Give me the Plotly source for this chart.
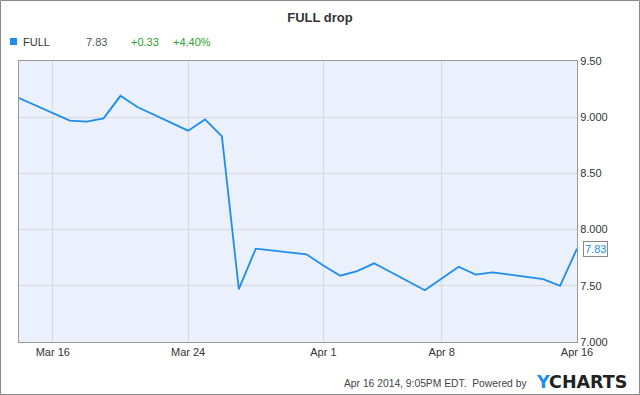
import plotly.graph_objects as go

dates = ["2014-03-14", "2014-03-17", "2014-03-18", "2014-03-19", "2014-03-20", "2014-03-21",
         "2014-03-24", "2014-03-25", "2014-03-26", "2014-03-27", "2014-03-28", "2014-03-31",
         "2014-04-01", "2014-04-02", "2014-04-03", "2014-04-04", "2014-04-07", "2014-04-08",
         "2014-04-09", "2014-04-10", "2014-04-11", "2014-04-14", "2014-04-15", "2014-04-16"]
prices = [9.17, 8.97, 8.96, 8.99, 9.19, 9.09,
          8.88, 8.98, 8.83, 7.47, 7.83, 7.78,
          7.68, 7.59, 7.63, 7.70, 7.46, 7.565,
          7.67, 7.60, 7.62, 7.56, 7.50, 7.83]

x_tick_vals = ["2014-03-16", "2014-03-24", "2014-04-01", "2014-04-08", "2014-04-16"]
x_tick_text = ["Mar 16", "Mar 24", "Apr 1", "Apr 8", "Apr 16"]
y_tick_vals = [7.0, 7.5, 8.0, 8.5, 9.0, 9.5]
y_tick_text = ["7.000", "7.50", "8.000", "8.50", "9.000", "9.50"]

W, H = 640, 395
L, R, T, B = 19, 63, 61, 53
pw, ph = W - L - R, H - T - B

LINE = "#1e8ded"
FONT = "Liberation Sans, Arial, sans-serif"

fig = go.Figure()
fig.add_trace(go.Scatter(x=dates, y=prices, mode="lines",
                         line=dict(color=LINE, width=1.8), hoverinfo="skip"))

fig.update_layout(
    width=W, height=H,
    margin=dict(l=L, r=R, t=T, b=B),
    paper_bgcolor="white",
    plot_bgcolor="#eaf1fc",
    showlegend=False,
    font=dict(family=FONT, size=11, color="#333333"),
    title=dict(text="<b>FULL drop</b>", x=0.5, xanchor="center", y=1 - 17.5 / H,
               yanchor="middle", font=dict(size=13, color="#333333", family=FONT)),
    xaxis=dict(type="date", range=["2014-03-14", "2014-04-16"],
               tickvals=x_tick_vals, ticktext=x_tick_text,
               showgrid=True, gridcolor="#d6d9de", gridwidth=1,
               showline=True, linecolor="#999999", linewidth=1, mirror=True,
               ticks="", zeroline=False, fixedrange=True,
               tickfont=dict(size=11, color="#333333")),
    yaxis=dict(range=[7.0, 9.5], side="right",
               tickvals=y_tick_vals, ticktext=y_tick_text,
               showgrid=True, gridcolor="#d6d9de", gridwidth=1,
               showline=True, linecolor="#999999", linewidth=1, mirror=True,
               ticks="", zeroline=False, fixedrange=True,
               tickfont=dict(size=11, color="#333333")),
)

# outer border
fig.add_shape(type="rect", xref="paper", yref="paper",
              x0=(-L + 0.5) / pw, x1=(W - L - 0.5) / pw,
              y0=(-B + 0.5) / ph, y1=(H - B - 0.5) / ph,
              line=dict(color="#8a8a8a", width=1), fillcolor="rgba(0,0,0,0)", layer="above")

def px(x):
    return (x - L) / pw

def py(y):
    return (H - B - y) / ph

# legend row
fig.add_shape(type="rect", xref="paper", yref="paper",
              x0=px(10), x1=px(17), y0=py(45), y1=py(38),
              line=dict(width=0), fillcolor=LINE)
legend_items = [(21, "FULL", "#333333"), (84, "7.83", "#555555"),
                (129, "+0.33", "#2ca02c"), (171, "+4.40%", "#2ca02c")]
for xx, txt, col in legend_items:
    fig.add_annotation(xref="paper", yref="paper", x=px(xx), y=py(42),
                       text=txt, showarrow=False, xanchor="left", yanchor="middle",
                       font=dict(size=11, color=col, family=FONT))

# last value label
fig.add_annotation(x=dates[-1], y=prices[-1], text=f"{prices[-1]:.2f}", showarrow=False,
                   xanchor="left", yanchor="middle", xshift=6,
                   font=dict(size=11, color=LINE, family=FONT),
                   bgcolor="white", bordercolor="#888888", borderwidth=1, borderpad=1)

# footer
fig.add_annotation(xref="paper", yref="paper", x=px(529), y=py(383),
                   text="Apr 16 2014, 9:05PM EDT.  Powered by", showarrow=False,
                   xanchor="right", yanchor="middle",
                   font=dict(size=10.3, color="#444444", family=FONT))
fig.add_annotation(xref="paper", yref="paper", x=px(534), y=py(382),
                   text="<b><span style='color:#1e8ded'>Y</span>CHARTS</b>", showarrow=False,
                   xanchor="left", yanchor="middle",
                   font=dict(size=17.5, color="#222222", family="DejaVu Sans, sans-serif"))

fig.write_html("out.html", config={"displayModeBar": False},
               post_script="document.body.style.margin='0';document.body.style.padding='0';")
